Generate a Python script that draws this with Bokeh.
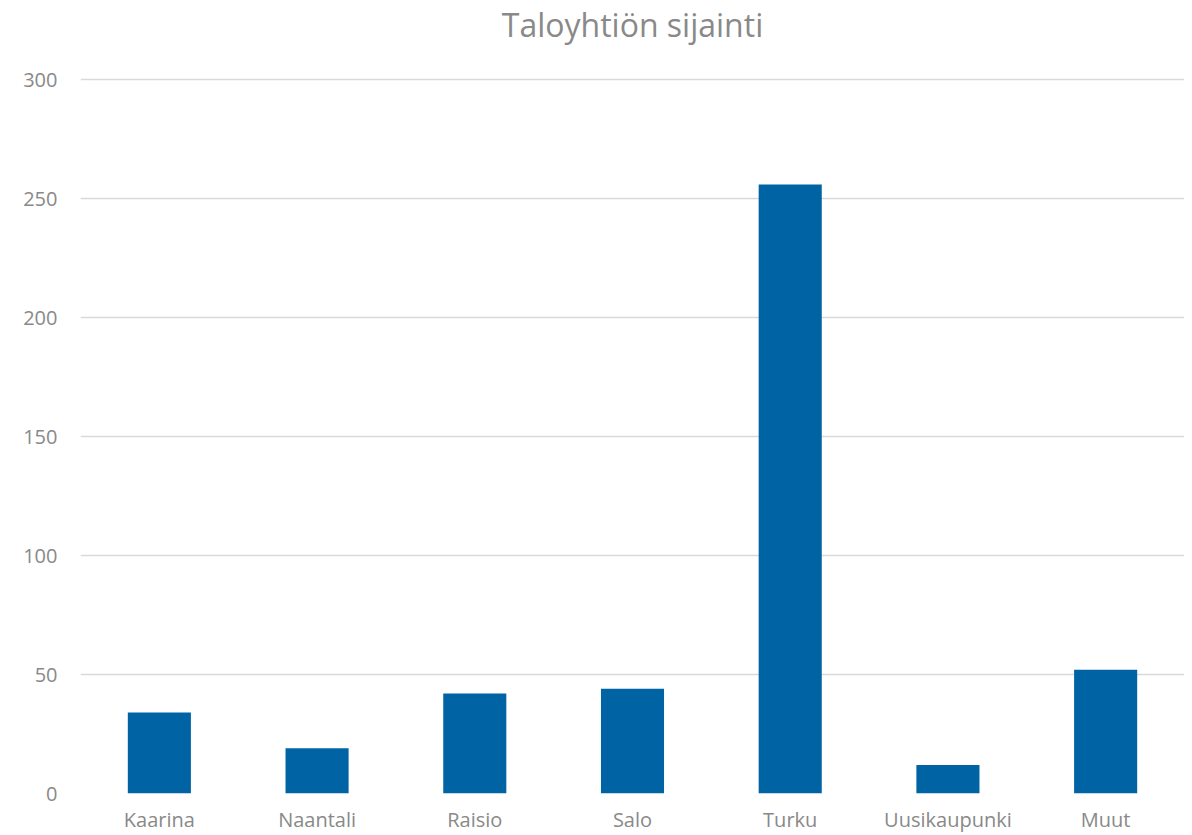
from bokeh.plotting import figure
from bokeh.models import Range1d, FactorRange, Title
from bokeh.embed import file_html
from bokeh.resources import INLINE

categories = ["Kaarina", "Naantali", "Raisio", "Salo", "Turku", "Uusikaupunki", "Muut"]
values = [34, 19, 42, 44, 256, 12, 52]
y_ticks = [0, 50, 100, 150, 200, 250, 300]
title_text = "Taloyhtiön sijainti"

FONT = "Open Sans"
TEXT_COLOR = "#898989"

p = figure(x_range=FactorRange(*categories, range_padding=0), y_range=Range1d(0, 301),
           width=1184, height=835, output_backend="svg", toolbar_location=None, title=None,
           min_border_left=80, min_border_right=0, min_border_top=75, min_border_bottom=0)

p.vbar(x=categories, top=values, width=0.4, fill_color="#0063a3", line_color=None)

# spacer between the title and the plot area, then the title itself
spacer = Title(text=" ", text_font_size="1px", standoff=29)
main_title = Title(text=title_text, align="center", text_font=FONT, text_font_size="32px",
                   text_font_style="normal", text_color=TEXT_COLOR, standoff=0)
p.add_layout(spacer, "above")
p.add_layout(main_title, "above")

p.outline_line_color = None
p.xgrid.grid_line_color = None
p.ygrid.grid_line_color = "#d9d9d9"
p.ygrid.grid_line_width = 1.5
p.yaxis.ticker = y_ticks

for ax in (p.xaxis[0], p.yaxis[0]):
    ax.axis_line_color = None
    ax.major_tick_line_color = None
    ax.minor_tick_line_color = None
    ax.major_tick_out = 0
    ax.major_tick_in = 0
    ax.minor_tick_out = 0
    ax.minor_tick_in = 0
    ax.major_label_text_font = FONT
    ax.major_label_text_font_size = "20px"
    ax.major_label_text_color = TEXT_COLOR

p.yaxis.major_label_standoff = 23
p.xaxis.major_label_standoff = 12

open("out.html", "w").write(file_html(p, INLINE))
